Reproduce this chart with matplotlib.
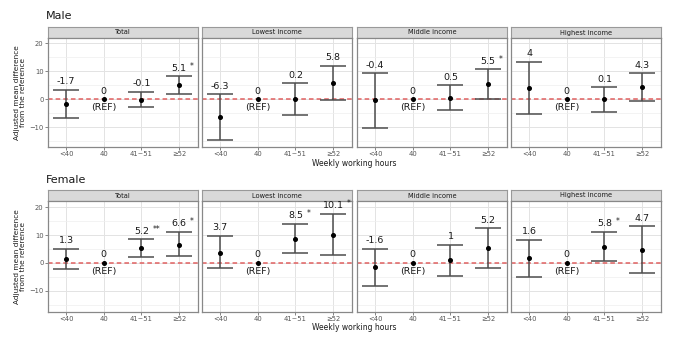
import matplotlib
matplotlib.use("Agg")
import matplotlib.pyplot as plt

hours = ["<40", "40", "41~51", "≥52"]
groups = ["Total", "Lowest income", "Middle income", "Highest income"]

# point estimates, CI bounds and significance marks, one row per income group
male_est = [[-1.7, 0, -0.1, 5.1], [-6.3, 0, 0.2, 5.8], [-0.4, 0, 0.5, 5.5], [4, 0, 0.1, 4.3]]
male_lo = [[-6.8, 0, -2.9, 1.9], [-14.5, 0, -5.6, -0.2], [-10.1, 0, -4.0, 0.1], [-5.4, 0, -4.4, -0.7]]
male_hi = [[3.3, 0, 2.6, 8.2], [1.8, 0, 5.7, 11.9], [9.3, 0, 4.9, 10.7], [13.3, 0, 4.3, 9.2]]
male_sig = [["", "", "", "*"], ["", "", "", ""], ["", "", "", "*"], ["", "", "", ""]]

female_est = [[1.3, 0, 5.2, 6.6], [3.7, 0, 8.5, 10.1], [-1.6, 0, 1, 5.2], [1.6, 0, 5.8, 4.7]]
female_lo = [[-2.3, 0, 2.2, 2.4], [-2.0, 0, 3.5, 2.9], [-8.4, 0, -4.6, -1.8], [-5.0, 0, 0.7, -3.5]]
female_hi = [[5.0, 0, 8.5, 11.1], [9.8, 0, 14.1, 17.7], [5.1, 0, 6.5, 12.5], [8.3, 0, 11.1, 13.1]]
female_sig = [["", "", "**", "*"], ["", "", "*", "*"], ["", "", "", ""], ["", "", "*", ""]]

W, H = 680, 339
fig = plt.figure(figsize=(W / 100, H / 100), dpi=100)
fig.patch.set_facecolor("white")

lefts = [48, 202, 357, 511]
pw = 150


def fx(px):
    return px / W


def fy(py):
    return 1 - py / H


def fmt(v):
    return ("%g" % v)


def draw_block(title, est, lo, hi, sig, strip_top, ax_top, ax_bot, ylim, title_y, xlab_y):
    fig.text(fx(46), fy(title_y), title, fontsize=8, va="center", ha="left", color="#1a1a1a")
    for k, g in enumerate(groups):
        sax = fig.add_axes([fx(lefts[k]), fy(ax_top), fx(pw), (ax_top - strip_top) / H])
        sax.set_facecolor("#D9D9D9")
        sax.set_xticks([])
        sax.set_yticks([])
        for s in sax.spines.values():
            s.set_color("#999999")
            s.set_linewidth(0.8)
        sax.text(0.5, 0.5, g, ha="center", va="center", fontsize=4.8, color="#1a1a1a",
                 transform=sax.transAxes)

        ax = fig.add_axes([fx(lefts[k]), fy(ax_bot), fx(pw), (ax_bot - ax_top) / H])
        ax.set_facecolor("white")
        ax.set_xlim(-0.48, 3.5)
        ax.set_ylim(*ylim)
        ax.set_xticks(range(4))
        ax.set_xticklabels(hours)
        ax.set_yticks([-10, 0, 10, 20])
        ax.set_yticks([-15, -5, 5, 15], minor=True)
        ax.grid(True, which="major", color="#E3E3E3", lw=0.7)
        ax.grid(True, which="minor", axis="y", color="#EFEFEF", lw=0.5)
        ax.set_axisbelow(True)
        ax.tick_params(axis="both", which="major", labelsize=4.9, colors="#555555",
                       length=2, width=0.5, pad=1.2)
        ax.tick_params(axis="y", which="minor", length=0)
        if k > 0:
            ax.set_yticklabels([])
            ax.tick_params(axis="y", length=0)
        for s in ax.spines.values():
            s.set_color("#888888")
            s.set_linewidth(0.9)

        ax.axhline(0, color="#E06060", ls=(0, (3, 2)), lw=1.1, zorder=2)
        for i in range(4):
            e, l, h = est[k][i], lo[k][i], hi[k][i]
            if i != 1:
                ax.errorbar(i, e, yerr=[[e - l], [h - e]], fmt="none", ecolor="#4D4D4D",
                            elinewidth=1.1, capsize=9.5, capthick=1.1, zorder=3)
            ax.plot(i, e, "o", color="black", ms=2.6, zorder=4)
            lab = ax.annotate(fmt(e), (i, h), xytext=(0, 2.5), textcoords="offset points",
                              ha="center", va="bottom", fontsize=6.8, color="#1a1a1a")
            if sig[k][i]:
                ax.annotate(sig[k][i], xy=(1, 1), xycoords=lab, xytext=(2.5, 1.5),
                            textcoords="offset points", ha="left", va="top",
                            fontsize=5.5, color="#1a1a1a")
            if i == 1:
                ax.annotate("(REF)", (i, e), xytext=(0, -3), textcoords="offset points",
                            ha="center", va="top", fontsize=6.8, color="#1a1a1a")

    fig.text(fx(354), fy(xlab_y), "Weekly working hours", fontsize=5.5, ha="center",
             va="center", color="#1a1a1a")
    fig.text(fx(20), fy((ax_top + ax_bot) / 2), "Adjusted mean difference\nfrom the reference",
             rotation=90, fontsize=5.3, ha="center", va="center", color="#1a1a1a",
             linespacing=1.0)


draw_block("Male", male_est, male_lo, male_hi, male_sig, 27, 38, 147, (-17.0, 21.8), 16, 164)
draw_block("Female", female_est, female_lo, female_hi, female_sig, 190, 201, 312, (-17.6, 22.2), 180, 327)

fig.savefig("out.png", dpi=100)
